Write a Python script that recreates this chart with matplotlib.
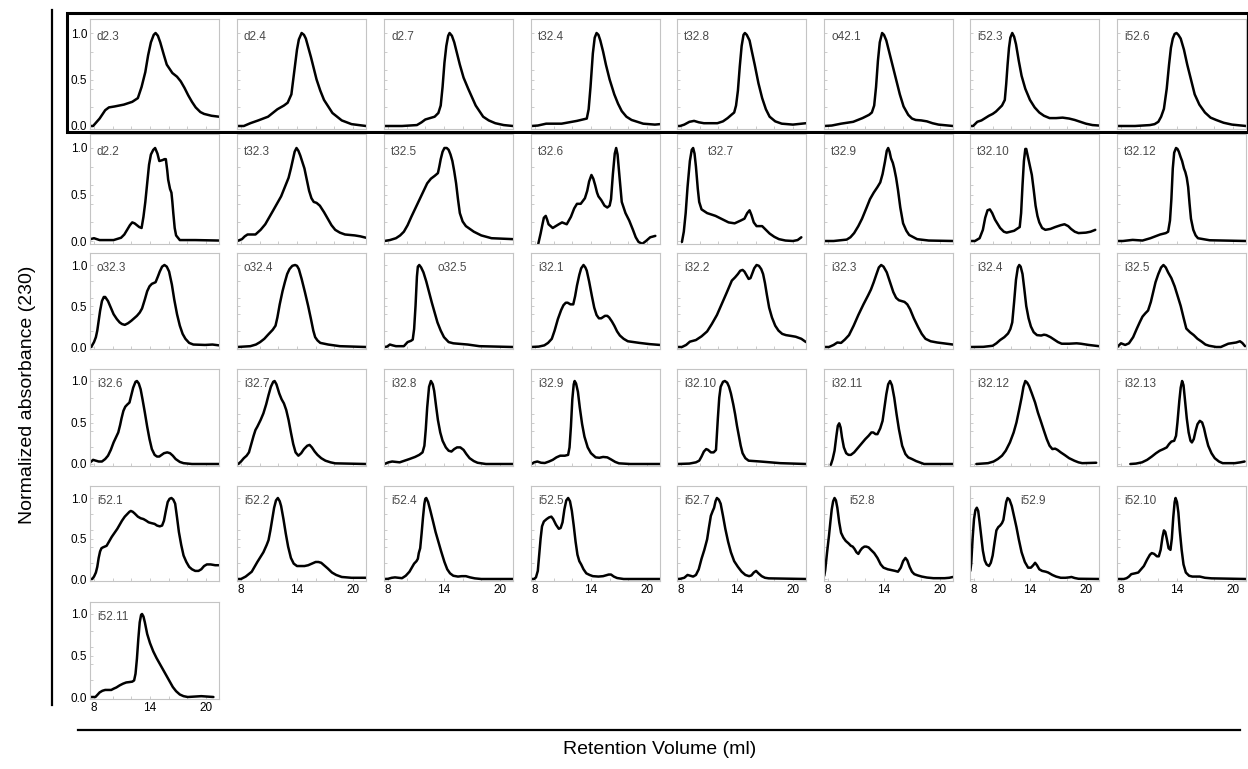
import numpy as np
import matplotlib.pyplot as plt
from matplotlib.patches import Rectangle
from matplotlib.lines import Line2D

# chromatograms, (retention volume ml, normalized absorbance)
d2_3 = [(7.6, 0.0), (7.9, 0.0), (8.6, 0.08), (9.2, 0.17), (9.6, 0.2), (10.2, 0.21), (11.2, 0.23), (12.1, 0.26),
        (12.7, 0.3), (13.1, 0.42), (13.5, 0.58), (13.8, 0.76), (14.1, 0.9), (14.4, 0.98), (14.6, 1.0), (14.85, 0.97),
        (15.1, 0.9), (15.5, 0.76), (15.8, 0.66), (16.4, 0.57), (16.9, 0.53), (17.3, 0.48), (17.7, 0.41), (18.1, 0.33),
        (18.5, 0.26), (18.9, 0.2), (19.4, 0.15), (19.8, 0.13), (20.6, 0.11), (21.4, 0.1)]
d2_4 = [(7.6, 0.0), (8.3, 0.0), (9.0, 0.03), (9.85, 0.06), (10.9, 0.1), (11.9, 0.18), (12.6, 0.22), (13.0, 0.25),
        (13.4, 0.34), (13.6, 0.5), (13.8, 0.66), (14.0, 0.82), (14.2, 0.93), (14.5, 1.0), (14.75, 0.98), (14.95, 0.94),
        (15.5, 0.74), (16.1, 0.5), (16.5, 0.38), (16.9, 0.28), (17.8, 0.14), (18.8, 0.06), (19.85, 0.02), (21.4, 0.0)]
d2_7 = [(7.6, 0.0), (9.5, 0.0), (11.1, 0.01), (11.6, 0.04), (12.0, 0.07), (13.0, 0.1), (13.4, 0.14), (13.65, 0.22),
        (13.85, 0.42), (14.05, 0.68), (14.25, 0.86), (14.45, 0.97), (14.6, 1.0), (14.85, 0.97), (15.1, 0.9),
        (15.4, 0.78), (15.7, 0.66), (16.1, 0.52), (16.6, 0.4), (17.4, 0.22), (18.2, 0.1), (18.8, 0.06), (19.5, 0.03),
        (20.4, 0.01), (21.4, 0.0)]
t32_4 = [(7.6, 0.0), (8.3, 0.005), (9.2, 0.025), (10.85, 0.025), (12.5, 0.055), (13.55, 0.08), (13.75, 0.18),
         (13.95, 0.42), (14.2, 0.78), (14.4, 0.95), (14.6, 1.0), (14.8, 0.98), (15.0, 0.92), (15.3, 0.8),
         (15.6, 0.66), (16.0, 0.5), (16.5, 0.34), (16.9, 0.24), (17.3, 0.16), (17.8, 0.1), (18.35, 0.065),
         (19.6, 0.025), (20.85, 0.015), (21.4, 0.02)]
t32_8 = [(7.6, 0.0), (7.9, 0.0), (8.35, 0.015), (8.9, 0.045), (9.4, 0.055), (9.9, 0.04), (10.45, 0.03), (11.9, 0.03),
         (12.5, 0.05), (13.0, 0.085), (13.4, 0.12), (13.7, 0.145), (13.9, 0.22), (14.1, 0.38), (14.3, 0.64),
         (14.5, 0.86), (14.7, 0.98), (14.85, 1.0), (15.05, 0.98), (15.35, 0.92), (15.6, 0.8), (15.9, 0.66),
         (16.3, 0.46), (16.7, 0.3), (17.1, 0.18), (17.5, 0.1), (18.1, 0.05), (18.8, 0.025), (20.0, 0.015),
         (21.4, 0.03)]
o42_1 = [(7.6, 0.0), (8.4, 0.005), (9.4, 0.025), (10.7, 0.045), (11.7, 0.085), (12.4, 0.12), (12.7, 0.145),
         (12.95, 0.22), (13.15, 0.42), (13.35, 0.7), (13.55, 0.9), (13.8, 1.0), (14.0, 0.98), (14.25, 0.92),
         (14.55, 0.8), (14.9, 0.66), (15.3, 0.5), (15.7, 0.34), (16.1, 0.21), (16.6, 0.12), (17.0, 0.08),
         (17.4, 0.065), (18.0, 0.06), (18.6, 0.05), (19.2, 0.03), (19.85, 0.015), (21.4, 0.0)]
i52_3 = [(7.6, 0.0), (7.9, 0.0), (8.35, 0.045), (8.8, 0.06), (9.2, 0.085), (9.6, 0.11), (10.0, 0.13), (10.35, 0.155),
         (10.65, 0.185), (11.0, 0.22), (11.3, 0.28), (11.45, 0.45), (11.6, 0.66), (11.75, 0.84), (11.9, 0.95),
         (12.1, 1.0), (12.3, 0.96), (12.5, 0.88), (12.8, 0.7), (13.1, 0.54), (13.5, 0.4), (14.0, 0.28),
         (14.5, 0.2), (15.0, 0.145), (15.5, 0.11), (16.1, 0.085), (16.8, 0.085), (17.5, 0.09), (18.2, 0.08),
         (18.8, 0.065), (19.4, 0.045), (20.0, 0.025), (20.7, 0.01), (21.4, 0.005)]
i52_6 = [(7.6, 0.0), (9.5, 0.0), (11.1, 0.01), (11.6, 0.02), (12.0, 0.045), (12.3, 0.1), (12.6, 0.185),
         (12.9, 0.4), (13.15, 0.66), (13.35, 0.84), (13.55, 0.94), (13.75, 0.99), (13.95, 1.0), (14.15, 0.98),
         (14.4, 0.94), (14.75, 0.82), (15.1, 0.66), (15.5, 0.5), (15.9, 0.34), (16.4, 0.23), (17.0, 0.145),
         (17.6, 0.09), (18.2, 0.065), (19.0, 0.035), (19.9, 0.015), (21.4, 0.0)]

d2_2 = [(7.6, 0.02), (8.0, 0.03), (8.6, 0.01), (10.1, 0.01), (10.9, 0.035), (11.25, 0.07), (11.55, 0.12),
        (11.85, 0.17), (12.1, 0.2), (12.35, 0.19), (12.6, 0.17), (12.85, 0.15), (13.1, 0.14), (13.3, 0.26),
        (13.5, 0.42), (13.7, 0.62), (13.9, 0.82), (14.1, 0.93), (14.35, 0.98), (14.55, 1.0), (14.8, 0.94),
        (15.0, 0.86), (15.35, 0.87), (15.55, 0.88), (15.7, 0.88), (15.85, 0.76), (15.95, 0.66), (16.15, 0.56),
        (16.3, 0.52), (16.4, 0.42), (16.5, 0.3), (16.65, 0.14), (16.8, 0.06), (17.2, 0.01), (18.85, 0.01),
        (21.4, 0.005)]
t32_3 = [(7.6, 0.0), (8.1, 0.02), (8.4, 0.05), (8.7, 0.07), (9.55, 0.07), (10.1, 0.12), (10.6, 0.18), (11.4, 0.32),
         (12.3, 0.48), (13.1, 0.68), (13.35, 0.78), (13.55, 0.87), (13.75, 0.96), (13.95, 1.0), (14.15, 0.97),
         (14.35, 0.92), (14.8, 0.78), (15.05, 0.66), (15.3, 0.54), (15.55, 0.46), (15.8, 0.42), (16.1, 0.41),
         (16.45, 0.38), (16.9, 0.31), (17.3, 0.24), (17.7, 0.17), (18.1, 0.12), (18.6, 0.09), (19.15, 0.07),
         (20.2, 0.06), (20.8, 0.05), (21.4, 0.035)]
t32_5 = [(7.6, 0.0), (8.2, 0.01), (8.85, 0.03), (9.3, 0.06), (9.7, 0.1), (10.1, 0.17), (10.5, 0.26), (11.35, 0.44),
         (12.2, 0.62), (12.6, 0.67), (13.0, 0.7), (13.35, 0.73), (13.5, 0.8), (13.65, 0.88), (13.85, 0.96),
         (14.05, 1.0), (14.3, 1.0), (14.5, 0.98), (14.7, 0.93), (14.9, 0.86), (15.1, 0.75), (15.3, 0.62),
         (15.5, 0.45), (15.7, 0.3), (16.0, 0.21), (16.35, 0.16), (17.2, 0.1), (18.0, 0.06), (19.1, 0.03),
         (21.4, 0.02)]
t32_6 = [(8.35, -0.03), (8.6, 0.08), (8.8, 0.18), (8.95, 0.25), (9.15, 0.27), (9.3, 0.23), (9.45, 0.18),
         (9.9, 0.14), (10.55, 0.18), (10.9, 0.2), (11.4, 0.18), (11.85, 0.26), (12.2, 0.35), (12.5, 0.4),
         (12.9, 0.4), (13.35, 0.46), (13.6, 0.54), (13.8, 0.64), (14.05, 0.71), (14.25, 0.67), (14.45, 0.6),
         (14.65, 0.52), (14.8, 0.48), (15.1, 0.44), (15.45, 0.38), (15.75, 0.36), (16.0, 0.38), (16.15, 0.45),
         (16.35, 0.72), (16.55, 0.94), (16.7, 1.0), (16.85, 0.93), (17.05, 0.7), (17.3, 0.42), (17.7, 0.3),
         (18.1, 0.22), (18.5, 0.12), (18.8, 0.04), (19.1, -0.01), (19.5, -0.03), (19.9, 0.0), (20.35, 0.04),
         (20.9, 0.055)]
t32_7 = [(8.1, -0.01), (8.3, 0.1), (8.5, 0.3), (8.7, 0.58), (8.95, 0.86), (9.15, 0.98), (9.3, 1.0), (9.45, 0.94),
         (9.6, 0.8), (9.8, 0.56), (9.95, 0.42), (10.2, 0.34), (10.8, 0.3), (11.7, 0.27), (12.5, 0.23),
         (13.1, 0.2), (13.75, 0.19), (14.4, 0.22), (14.8, 0.24), (15.1, 0.3), (15.35, 0.33), (15.55, 0.28),
         (15.8, 0.2), (16.1, 0.16), (16.7, 0.16), (17.1, 0.12), (17.5, 0.08), (18.0, 0.045), (18.5, 0.02),
         (19.2, 0.005), (20.0, 0.0), (20.5, 0.01), (20.9, 0.04)]
t32_9 = [(7.6, 0.0), (8.6, 0.0), (10.0, 0.015), (10.4, 0.04), (10.8, 0.085), (11.25, 0.16), (11.65, 0.24),
         (12.1, 0.35), (12.5, 0.45), (12.9, 0.52), (13.3, 0.58), (13.6, 0.63), (13.85, 0.72), (14.1, 0.85),
         (14.3, 0.97), (14.45, 1.0), (14.6, 0.96), (14.75, 0.89), (14.95, 0.84), (15.1, 0.78), (15.3, 0.68),
         (15.5, 0.55), (15.75, 0.36), (16.05, 0.19), (16.4, 0.11), (16.7, 0.065), (17.55, 0.02), (18.8, 0.005),
         (21.4, 0.0)]
t32_10 = [(7.6, 0.0), (8.1, 0.0), (8.6, 0.03), (8.95, 0.12), (9.2, 0.25), (9.45, 0.33), (9.7, 0.34), (9.95, 0.3),
          (10.25, 0.23), (10.8, 0.14), (11.2, 0.1), (11.5, 0.09), (12.3, 0.11), (12.9, 0.15), (13.05, 0.3),
          (13.2, 0.6), (13.35, 0.86), (13.5, 0.99), (13.6, 0.99), (13.75, 0.92), (13.9, 0.85), (14.2, 0.71),
          (14.4, 0.55), (14.6, 0.38), (14.8, 0.27), (15.0, 0.2), (15.3, 0.14), (15.65, 0.12), (16.2, 0.13),
          (16.7, 0.15), (17.3, 0.17), (17.7, 0.18), (18.1, 0.16), (18.4, 0.13), (18.8, 0.1), (19.2, 0.085),
          (20.0, 0.09), (20.5, 0.1), (21.0, 0.12)]
t32_12 = [(7.6, 0.0), (8.2, 0.0), (9.25, 0.012), (10.3, 0.005), (11.15, 0.03), (12.2, 0.07), (12.8, 0.085),
          (13.05, 0.1), (13.25, 0.22), (13.4, 0.45), (13.55, 0.78), (13.7, 0.95), (13.9, 1.0), (14.05, 0.99),
          (14.2, 0.96), (14.4, 0.9), (14.55, 0.86), (14.75, 0.78), (14.9, 0.74), (15.05, 0.68), (15.2, 0.58),
          (15.35, 0.4), (15.5, 0.24), (15.75, 0.12), (16.0, 0.06), (16.25, 0.03), (17.5, 0.008), (21.4, 0.0)]

o32_3 = [(7.7, 0.0), (8.0, 0.06), (8.2, 0.12), (8.35, 0.2), (8.5, 0.32), (8.65, 0.44), (8.85, 0.56), (9.05, 0.61),
         (9.2, 0.61), (9.5, 0.56), (9.8, 0.48), (10.1, 0.4), (10.45, 0.34), (10.75, 0.3), (11.0, 0.28),
         (11.3, 0.27), (11.65, 0.29), (12.0, 0.32), (12.3, 0.35), (12.6, 0.38), (12.9, 0.42), (13.15, 0.47),
         (13.45, 0.58), (13.7, 0.68), (13.95, 0.74), (14.2, 0.77), (14.6, 0.79), (14.85, 0.86), (15.05, 0.92),
         (15.3, 0.98), (15.55, 1.0), (15.8, 0.98), (16.05, 0.92), (16.35, 0.76), (16.6, 0.58), (16.9, 0.4),
         (17.2, 0.26), (17.5, 0.16), (17.8, 0.1), (18.2, 0.05), (18.65, 0.03), (19.9, 0.025), (20.7, 0.03),
         (21.4, 0.02)]
o32_4 = [(7.6, 0.0), (9.0, 0.01), (9.6, 0.03), (10.05, 0.06), (10.5, 0.1), (10.9, 0.15), (11.4, 0.21),
         (11.7, 0.26), (11.9, 0.36), (12.15, 0.52), (12.45, 0.68), (12.7, 0.79), (12.95, 0.89), (13.2, 0.95),
         (13.5, 0.99), (13.8, 1.0), (14.0, 0.99), (14.2, 0.95), (14.5, 0.83), (14.85, 0.67), (15.2, 0.5),
         (15.5, 0.34), (15.75, 0.2), (15.95, 0.12), (16.2, 0.08), (16.5, 0.05), (17.35, 0.03), (18.6, 0.01),
         (21.4, 0.0)]
o32_5 = [(7.6, 0.0), (7.9, 0.005), (8.2, 0.03), (8.5, 0.02), (8.85, 0.01), (9.7, 0.01), (10.1, 0.06), (10.45, 0.075),
         (10.65, 0.09), (10.8, 0.22), (10.95, 0.5), (11.1, 0.86), (11.2, 0.98), (11.35, 1.0), (11.55, 0.97),
         (11.8, 0.91), (12.1, 0.8), (12.4, 0.67), (12.7, 0.54), (13.0, 0.42), (13.3, 0.3), (13.65, 0.2),
         (14.0, 0.12), (14.5, 0.06), (15.0, 0.045), (15.5, 0.04), (16.55, 0.03), (17.8, 0.01), (21.4, 0.0)]
i32_1 = [(7.6, 0.0), (8.4, 0.005), (9.0, 0.02), (9.4, 0.05), (9.8, 0.1), (10.1, 0.2), (10.45, 0.34), (10.8, 0.45),
         (11.05, 0.51), (11.3, 0.54), (11.5, 0.54), (11.8, 0.52), (12.1, 0.52), (12.3, 0.62), (12.5, 0.75),
         (12.75, 0.88), (12.95, 0.96), (13.2, 1.0), (13.4, 0.97), (13.55, 0.93), (13.8, 0.8), (14.1, 0.62),
         (14.35, 0.48), (14.6, 0.39), (14.85, 0.35), (15.1, 0.35), (15.5, 0.38), (15.75, 0.38), (15.95, 0.36),
         (16.25, 0.31), (16.5, 0.26), (16.8, 0.19), (17.1, 0.14), (17.5, 0.1), (17.95, 0.07), (19.2, 0.05),
         (20.3, 0.035), (21.4, 0.025)]
i32_2 = [(7.6, 0.0), (8.1, 0.0), (8.55, 0.025), (8.95, 0.065), (9.6, 0.085), (10.2, 0.13), (10.8, 0.19),
         (11.3, 0.28), (11.85, 0.39), (12.35, 0.52), (12.85, 0.65), (13.15, 0.73), (13.45, 0.81), (13.8, 0.85),
         (14.1, 0.89), (14.35, 0.93), (14.6, 0.94), (14.8, 0.92), (15.0, 0.88), (15.25, 0.83), (15.45, 0.84),
         (15.65, 0.9), (15.85, 0.96), (16.1, 1.0), (16.35, 0.99), (16.6, 0.95), (16.8, 0.89), (17.0, 0.78),
         (17.2, 0.64), (17.45, 0.48), (17.75, 0.36), (18.1, 0.26), (18.45, 0.2), (18.85, 0.16), (19.25, 0.145),
         (19.8, 0.135), (20.3, 0.125), (20.9, 0.1), (21.4, 0.06)]
i32_3 = [(7.6, 0.0), (8.1, 0.0), (8.6, 0.025), (9.0, 0.055), (9.4, 0.05), (9.8, 0.09), (10.25, 0.145),
         (10.75, 0.26), (11.25, 0.39), (11.8, 0.52), (12.3, 0.63), (12.6, 0.7), (12.9, 0.79), (13.2, 0.89),
         (13.45, 0.97), (13.7, 1.0), (13.95, 0.98), (14.3, 0.91), (14.65, 0.79), (15.0, 0.67), (15.3, 0.6),
         (15.6, 0.57), (15.9, 0.56), (16.2, 0.55), (16.5, 0.52), (16.8, 0.46), (17.2, 0.35), (17.65, 0.245),
         (18.05, 0.16), (18.45, 0.1), (19.0, 0.07), (19.7, 0.055), (21.4, 0.03)]
i32_4 = [(7.6, 0.0), (9.0, 0.002), (10.0, 0.015), (10.4, 0.045), (10.8, 0.085), (11.25, 0.12), (11.65, 0.165),
         (11.9, 0.22), (12.1, 0.3), (12.3, 0.55), (12.5, 0.82), (12.7, 0.97), (12.85, 1.0), (13.0, 0.98),
         (13.2, 0.89), (13.4, 0.7), (13.6, 0.5), (13.85, 0.35), (14.1, 0.25), (14.4, 0.18), (14.75, 0.145),
         (15.2, 0.14), (15.5, 0.15), (15.75, 0.145), (16.2, 0.12), (16.6, 0.09), (17.0, 0.06), (17.4, 0.04),
         (18.2, 0.04), (19.0, 0.045), (19.45, 0.04), (20.3, 0.025), (21.4, 0.01)]
i32_5 = [(7.6, 0.0), (8.0, 0.045), (8.45, 0.025), (8.85, 0.045), (9.3, 0.12), (9.7, 0.225), (10.0, 0.3),
         (10.3, 0.37), (10.6, 0.41), (10.9, 0.445), (11.2, 0.55), (11.45, 0.67), (11.7, 0.79), (12.0, 0.89),
         (12.3, 0.97), (12.55, 1.0), (12.8, 0.97), (13.05, 0.91), (13.4, 0.84), (13.75, 0.74), (14.05, 0.63),
         (14.4, 0.5), (14.7, 0.36), (15.0, 0.225), (15.4, 0.18), (15.8, 0.145), (16.2, 0.1), (16.65, 0.065),
         (17.05, 0.03), (17.45, 0.015), (18.2, 0.0), (18.7, 0.0), (19.1, 0.02), (19.5, 0.04), (20.35, 0.055),
         (20.75, 0.07), (21.0, 0.05), (21.3, 0.01)]

i32_6 = [(7.6, 0.02), (7.9, 0.05), (8.2, 0.04), (8.5, 0.03), (8.85, 0.03), (9.2, 0.06), (9.5, 0.1), (9.8, 0.17),
         (10.1, 0.26), (10.6, 0.38), (10.8, 0.47), (10.95, 0.55), (11.15, 0.64), (11.35, 0.69), (11.6, 0.72),
         (11.8, 0.74), (12.0, 0.83), (12.2, 0.92), (12.45, 0.99), (12.6, 1.0), (12.8, 0.97), (13.0, 0.9),
         (13.2, 0.78), (13.45, 0.62), (13.7, 0.45), (13.95, 0.3), (14.2, 0.18), (14.5, 0.11), (14.75, 0.09),
         (15.0, 0.09), (15.25, 0.11), (15.5, 0.13), (15.85, 0.14), (16.15, 0.13), (16.45, 0.1), (16.75, 0.06),
         (17.2, 0.025), (17.6, 0.01), (18.5, 0.0), (21.4, 0.0)]
i32_7 = [(7.7, 0.0), (8.0, 0.03), (8.3, 0.07), (8.6, 0.1), (8.85, 0.14), (9.1, 0.24), (9.35, 0.34), (9.55, 0.41),
         (9.75, 0.45), (10.1, 0.53), (10.4, 0.61), (10.7, 0.72), (10.95, 0.83), (11.2, 0.93), (11.45, 0.99),
         (11.6, 1.0), (11.8, 0.96), (12.1, 0.85), (12.35, 0.78), (12.6, 0.73), (12.85, 0.65), (13.1, 0.53),
         (13.35, 0.38), (13.6, 0.24), (13.85, 0.14), (14.15, 0.1), (14.45, 0.13), (14.75, 0.18), (15.1, 0.22),
         (15.35, 0.23), (15.6, 0.2), (15.9, 0.15), (16.2, 0.11), (16.6, 0.07), (17.05, 0.04), (17.6, 0.02),
         (18.1, 0.008), (21.4, 0.0)]
i32_8 = [(7.6, 0.0), (8.05, 0.02), (8.45, 0.03), (9.25, 0.02), (10.3, 0.06), (10.9, 0.085), (11.35, 0.11),
         (11.7, 0.14), (11.9, 0.22), (12.05, 0.42), (12.2, 0.68), (12.4, 0.93), (12.6, 1.0), (12.8, 0.96),
         (12.95, 0.88), (13.15, 0.7), (13.35, 0.53), (13.6, 0.38), (13.85, 0.28), (14.2, 0.2), (14.5, 0.16),
         (14.8, 0.15), (15.1, 0.18), (15.4, 0.2), (15.75, 0.2), (16.1, 0.17), (16.4, 0.12), (16.75, 0.07),
         (17.2, 0.035), (17.6, 0.015), (18.5, 0.0), (21.4, 0.0)]
i32_9 = [(7.6, 0.0), (7.9, 0.02), (8.25, 0.03), (8.65, 0.015), (9.05, 0.012), (9.5, 0.03), (9.9, 0.05),
         (10.3, 0.08), (10.7, 0.1), (11.2, 0.1), (11.55, 0.11), (11.7, 0.2), (11.85, 0.45), (12.0, 0.78),
         (12.15, 0.96), (12.25, 1.0), (12.4, 0.97), (12.6, 0.87), (12.8, 0.68), (13.05, 0.48), (13.3, 0.33),
         (13.65, 0.2), (14.0, 0.13), (14.5, 0.08), (14.9, 0.075), (15.3, 0.085), (15.75, 0.08), (16.15, 0.055),
         (16.6, 0.025), (17.0, 0.008), (18.2, 0.0), (21.4, 0.0)]
i32_10 = [(7.6, 0.0), (8.9, 0.005), (9.6, 0.02), (9.95, 0.04), (10.2, 0.09), (10.45, 0.15), (10.7, 0.18),
          (10.9, 0.17), (11.2, 0.14), (11.5, 0.14), (11.75, 0.17), (11.85, 0.36), (11.95, 0.55), (12.1, 0.8),
          (12.25, 0.93), (12.5, 0.99), (12.7, 1.0), (12.95, 0.98), (13.15, 0.93), (13.35, 0.85), (13.6, 0.72),
          (13.8, 0.6), (14.0, 0.46), (14.2, 0.34), (14.4, 0.22), (14.6, 0.13), (14.9, 0.07), (15.25, 0.04),
          (16.5, 0.03), (18.65, 0.01), (21.4, 0.0)]
i32_11 = [(8.3, -0.01), (8.5, 0.06), (8.7, 0.16), (8.9, 0.34), (9.05, 0.46), (9.2, 0.49), (9.35, 0.44),
          (9.5, 0.32), (9.7, 0.2), (9.95, 0.13), (10.2, 0.11), (10.45, 0.11), (10.8, 0.14), (11.1, 0.18),
          (11.4, 0.22), (11.7, 0.26), (12.0, 0.3), (12.35, 0.34), (12.65, 0.38), (12.85, 0.38), (13.1, 0.36),
          (13.3, 0.36), (13.6, 0.43), (13.85, 0.52), (14.05, 0.68), (14.25, 0.84), (14.45, 0.96), (14.65, 1.0),
          (14.85, 0.95), (15.1, 0.8), (15.35, 0.6), (15.6, 0.42), (15.95, 0.22), (16.3, 0.12), (16.6, 0.08),
          (17.0, 0.06), (17.45, 0.035), (18.3, 0.0), (20.0, 0.0), (21.4, 0.0)]
i32_12 = [(8.25, 0.0), (9.5, 0.01), (10.1, 0.03), (10.55, 0.06), (11.0, 0.1), (11.4, 0.16), (11.85, 0.26),
          (12.25, 0.38), (12.55, 0.5), (12.85, 0.66), (13.1, 0.8), (13.3, 0.93), (13.5, 1.0), (13.7, 0.98),
          (13.9, 0.94), (14.2, 0.85), (14.55, 0.74), (14.85, 0.62), (15.15, 0.52), (15.5, 0.4), (15.8, 0.3),
          (16.1, 0.22), (16.4, 0.18), (16.7, 0.185), (16.95, 0.17), (17.3, 0.14), (17.7, 0.11), (18.2, 0.07),
          (18.75, 0.04), (19.2, 0.02), (19.6, 0.01), (21.1, 0.015)]
i32_13 = [(9.0, 0.0), (9.6, 0.005), (10.25, 0.02), (10.8, 0.05), (11.3, 0.09), (11.75, 0.13), (12.15, 0.16),
          (12.55, 0.18), (12.9, 0.2), (13.15, 0.24), (13.4, 0.27), (13.7, 0.28), (13.9, 0.34), (14.05, 0.5),
          (14.25, 0.76), (14.4, 0.92), (14.55, 1.0), (14.7, 0.95), (14.85, 0.78), (15.05, 0.55), (15.25, 0.38),
          (15.45, 0.28), (15.6, 0.26), (15.8, 0.3), (16.0, 0.4), (16.2, 0.48), (16.45, 0.52), (16.7, 0.5),
          (16.9, 0.43), (17.1, 0.33), (17.35, 0.22), (17.7, 0.13), (18.05, 0.07), (18.5, 0.03), (18.9, 0.01),
          (20.2, 0.01), (20.8, 0.02), (21.25, 0.03)]

i52_1 = [(7.6, 0.0), (7.8, 0.0), (8.0, 0.03), (8.2, 0.08), (8.35, 0.15), (8.5, 0.26), (8.65, 0.34),
         (8.8, 0.38), (8.95, 0.39), (9.35, 0.41), (9.6, 0.46), (9.9, 0.52), (10.2, 0.57), (10.5, 0.62),
         (10.75, 0.67), (11.0, 0.72), (11.3, 0.77), (11.55, 0.8), (11.8, 0.83), (11.95, 0.84), (12.15, 0.83),
         (12.35, 0.81), (12.7, 0.77), (13.0, 0.75), (13.3, 0.74), (13.6, 0.72), (13.85, 0.7), (14.15, 0.69),
         (14.5, 0.68), (14.75, 0.66), (15.05, 0.65), (15.3, 0.66), (15.5, 0.72), (15.7, 0.84), (15.9, 0.95),
         (16.1, 0.99), (16.3, 1.0), (16.5, 0.98), (16.7, 0.93), (16.9, 0.76), (17.1, 0.58), (17.35, 0.42),
         (17.6, 0.29), (17.9, 0.21), (18.2, 0.15), (18.5, 0.12), (18.85, 0.1), (19.2, 0.1), (19.5, 0.12),
         (19.8, 0.16), (20.1, 0.18), (20.5, 0.18), (21.0, 0.17), (21.4, 0.17)]
i52_2 = [(7.6, 0.0), (8.0, 0.0), (8.5, 0.03), (9.15, 0.09), (9.75, 0.21), (10.4, 0.33), (10.75, 0.42),
         (10.95, 0.48), (11.15, 0.6), (11.35, 0.74), (11.55, 0.88), (11.75, 0.97), (11.95, 1.0), (12.15, 0.96),
         (12.3, 0.9), (12.55, 0.74), (12.8, 0.56), (13.05, 0.4), (13.35, 0.26), (13.65, 0.19), (14.0, 0.16),
         (14.4, 0.16), (14.8, 0.16), (15.2, 0.17), (15.6, 0.19), (16.0, 0.21), (16.3, 0.21), (16.6, 0.2),
         (16.9, 0.17), (17.3, 0.13), (17.75, 0.08), (18.2, 0.05), (18.8, 0.025), (19.85, 0.015), (21.4, 0.015)]
i52_4 = [(7.6, 0.0), (8.0, 0.002), (8.4, 0.015), (8.75, 0.02), (9.5, 0.01), (9.9, 0.04), (10.3, 0.09),
         (10.55, 0.14), (10.8, 0.19), (11.05, 0.22), (11.2, 0.25), (11.3, 0.32), (11.45, 0.38), (11.6, 0.56),
         (11.75, 0.76), (11.9, 0.93), (12.0, 0.99), (12.1, 1.0), (12.3, 0.95), (12.55, 0.84), (12.85, 0.7),
         (13.1, 0.58), (13.4, 0.46), (13.7, 0.34), (14.05, 0.21), (14.35, 0.12), (14.65, 0.07), (15.0, 0.04),
         (15.5, 0.03), (15.9, 0.035), (16.35, 0.035), (16.8, 0.02), (17.3, 0.008), (18.0, 0.0), (21.4, 0.0)]
i52_5 = [(7.6, 0.0), (7.9, 0.0), (8.1, 0.02), (8.3, 0.1), (8.45, 0.3), (8.6, 0.5), (8.75, 0.65), (8.95, 0.71),
         (9.25, 0.74), (9.5, 0.76), (9.75, 0.77), (9.95, 0.74), (10.25, 0.67), (10.55, 0.62), (10.75, 0.63),
         (10.95, 0.7), (11.15, 0.86), (11.35, 0.97), (11.55, 1.0), (11.75, 0.96), (11.95, 0.84), (12.15, 0.66),
         (12.35, 0.46), (12.55, 0.3), (12.75, 0.22), (12.95, 0.18), (13.2, 0.12), (13.5, 0.07), (13.85, 0.05),
         (14.2, 0.035), (14.8, 0.03), (15.3, 0.035), (15.6, 0.045), (15.9, 0.055), (16.15, 0.055),
         (16.45, 0.03), (16.8, 0.012), (17.5, 0.0), (21.4, 0.0)]
i52_7 = [(7.6, 0.0), (7.9, 0.002), (8.35, 0.015), (8.7, 0.05), (9.0, 0.04), (9.3, 0.03), (9.6, 0.05),
         (9.9, 0.12), (10.2, 0.25), (10.5, 0.36), (10.8, 0.49), (11.0, 0.64), (11.2, 0.78), (11.4, 0.84),
         (11.55, 0.88), (11.7, 0.96), (11.85, 1.0), (12.05, 0.98), (12.25, 0.93), (12.5, 0.78), (12.75, 0.62),
         (13.05, 0.46), (13.35, 0.33), (13.7, 0.22), (14.1, 0.15), (14.5, 0.09), (14.9, 0.05), (15.3, 0.035),
         (15.55, 0.045), (15.8, 0.08), (16.05, 0.1), (16.3, 0.07), (16.65, 0.035), (17.0, 0.015), (17.4, 0.008),
         (21.4, 0.0)]
i52_8 = [(7.6, 0.04), (7.7, 0.11), (7.9, 0.33), (8.1, 0.53), (8.25, 0.7), (8.4, 0.86), (8.55, 0.96), (8.7, 1.0),
         (8.85, 0.97), (9.0, 0.88), (9.2, 0.7), (9.4, 0.57), (9.65, 0.51), (9.9, 0.47), (10.2, 0.44),
         (10.45, 0.41), (10.65, 0.4), (10.85, 0.37), (11.05, 0.33), (11.25, 0.31), (11.45, 0.35), (11.65, 0.38),
         (11.9, 0.4), (12.1, 0.4), (12.35, 0.39), (12.6, 0.36), (12.95, 0.32), (13.3, 0.26), (13.65, 0.18),
         (13.95, 0.14), (14.4, 0.12), (14.8, 0.11), (15.2, 0.1), (15.5, 0.09), (15.8, 0.14), (16.05, 0.22),
         (16.3, 0.26), (16.5, 0.23), (16.75, 0.15), (17.0, 0.09), (17.25, 0.06), (17.6, 0.045), (18.05, 0.03),
         (18.6, 0.018), (19.3, 0.01), (20.5, 0.01), (21.0, 0.015), (21.4, 0.025)]
i52_9 = [(7.6, 0.1), (7.7, 0.19), (7.85, 0.5), (8.0, 0.74), (8.15, 0.85), (8.3, 0.88), (8.45, 0.84), (8.6, 0.7),
         (8.75, 0.55), (8.95, 0.35), (9.15, 0.23), (9.35, 0.18), (9.6, 0.16), (9.8, 0.2), (10.0, 0.29),
         (10.2, 0.45), (10.4, 0.6), (10.6, 0.64), (10.8, 0.66), (11.0, 0.69), (11.15, 0.73), (11.3, 0.84),
         (11.45, 0.95), (11.6, 1.0), (11.8, 0.98), (12.05, 0.9), (12.3, 0.77), (12.55, 0.64), (12.8, 0.49),
         (13.1, 0.33), (13.45, 0.21), (13.8, 0.14), (14.1, 0.14), (14.35, 0.17), (14.55, 0.2), (14.75, 0.17),
         (15.0, 0.12), (15.3, 0.1), (15.7, 0.09), (15.95, 0.08), (16.4, 0.05), (16.8, 0.03), (17.3, 0.015),
         (17.8, 0.015), (18.2, 0.02), (18.45, 0.025), (18.8, 0.012), (19.2, 0.003), (21.4, 0.0)]
i52_10 = [(7.6, 0.0), (8.3, 0.0), (8.6, 0.01), (8.85, 0.03), (9.1, 0.06), (9.5, 0.07), (9.85, 0.08),
          (10.15, 0.12), (10.45, 0.16), (10.8, 0.24), (11.1, 0.3), (11.3, 0.32), (11.55, 0.31), (11.85, 0.28),
          (12.05, 0.28), (12.25, 0.36), (12.45, 0.52), (12.6, 0.6), (12.75, 0.58), (12.9, 0.5), (13.1, 0.38),
          (13.3, 0.36), (13.45, 0.5), (13.6, 0.76), (13.75, 0.95), (13.85, 1.0), (14.0, 0.95), (14.15, 0.82),
          (14.3, 0.6), (14.5, 0.36), (14.7, 0.18), (14.95, 0.08), (15.3, 0.04), (15.65, 0.03), (16.45, 0.03),
          (17.0, 0.015), (17.7, 0.008), (21.4, 0.0)]

i52_11 = [(7.6, 0.0), (8.15, 0.0), (8.4, 0.03), (8.6, 0.055), (8.9, 0.075), (9.2, 0.085), (9.85, 0.085),
          (10.1, 0.1), (10.4, 0.115), (10.75, 0.14), (11.1, 0.16), (11.45, 0.175), (11.8, 0.18), (12.1, 0.185),
          (12.3, 0.2), (12.45, 0.28), (12.6, 0.46), (12.75, 0.7), (12.9, 0.9), (13.05, 0.99), (13.15, 1.0),
          (13.3, 0.97), (13.45, 0.9), (13.7, 0.76), (14.0, 0.65), (14.35, 0.55), (14.7, 0.47), (15.05, 0.4),
          (15.4, 0.33), (15.75, 0.26), (16.1, 0.19), (16.45, 0.12), (16.8, 0.07), (17.2, 0.03), (17.6, 0.01),
          (18.05, 0.0), (19.5, 0.01), (20.8, 0.0)]

# grid order, row by row (label, curve)
row1 = [("d2.3", d2_3), ("d2.4", d2_4), ("d2.7", d2_7), ("t32.4", t32_4),
        ("t32.8", t32_8), ("o42.1", o42_1), ("i52.3", i52_3), ("i52.6", i52_6)]
row2 = [("d2.2", d2_2), ("t32.3", t32_3), ("t32.5", t32_5), ("t32.6", t32_6),
        ("t32.7", t32_7), ("t32.9", t32_9), ("t32.10", t32_10), ("t32.12", t32_12)]
row3 = [("o32.3", o32_3), ("o32.4", o32_4), ("o32.5", o32_5), ("i32.1", i32_1),
        ("i32.2", i32_2), ("i32.3", i32_3), ("i32.4", i32_4), ("i32.5", i32_5)]
row4 = [("i32.6", i32_6), ("i32.7", i32_7), ("i32.8", i32_8), ("i32.9", i32_9),
        ("i32.10", i32_10), ("i32.11", i32_11), ("i32.12", i32_12), ("i32.13", i32_13)]
row5 = [("i52.1", i52_1), ("i52.2", i52_2), ("i52.4", i52_4), ("i52.5", i52_5),
        ("i52.7", i52_7), ("i52.8", i52_8), ("i52.9", i52_9), ("i52.10", i52_10)]
row6 = [("i52.11", i52_11)]
rows = [row1, row2, row3, row4, row5, row6]

x_major = [8, 14, 20]
x_minor = [10, 12, 16, 18]
y_major = [0.0, 0.5, 1.0]
y_minor = [0.2, 0.4, 0.6, 0.8]

# labels that sit further right in their panel (pixels from the left spine)
label_offset = {"t32.7": 31, "o32.5": 54, "i52.8": 25, "i52.9": 50}

W, H = 1248, 769
plt.rcParams["font.family"] = ["Liberation Sans", "DejaVu Sans"]
fig = plt.figure(figsize=(W / 100, H / 100), dpi=100)

col_left = [90, 237, 384, 531, 677, 824, 970, 1117]
col_w = 129
# (pixel of y=0, pixel of y=1) per row
row_y = [(126, 33), (241, 148), (347, 265), (464, 381), (579, 498), (697, 614)]
ylo, yhi = -0.03, 1.15


def px_axes(left, top, w, h):
    return fig.add_axes([left / W, 1 - (top + h) / H, w / W, h / H])


for r, row in enumerate(rows):
    y0, y1 = row_y[r]
    unit = y0 - y1
    top = y1 - (yhi - 1.0) * unit
    h = (yhi - ylo) * unit
    for c, (name, pts) in enumerate(row):
        ax = px_axes(col_left[c], top, col_w, h)
        xs, ys = np.array(pts).T
        ax.plot(xs, ys, color="black", lw=1.8, solid_joinstyle="round", solid_capstyle="round")
        ax.set_xlim(7.57, 21.4)
        ax.set_ylim(ylo, yhi)
        for s in ax.spines.values():
            s.set_color("#c4c4c4")
            s.set_linewidth(0.8)
        ax.set_xticks(x_major)
        ax.set_xticks(x_minor, minor=True)
        ax.set_yticks(y_major)
        ax.set_yticks(y_minor, minor=True)
        ax.tick_params(which="both", direction="in", length=2.5, width=0.6, color="#c4c4c4",
                       labelsize=8.5, pad=2)
        show_x = (r == 4 and c > 0) or r == 5
        if not show_x:
            ax.set_xticklabels([])
        if c != 0:
            ax.set_yticklabels([])
        else:
            ax.set_yticklabels(["0.0", "0.5", "1.0"])
        off = label_offset.get(name, 7)
        ax.text(off / col_w, 0.84, name, transform=ax.transAxes, fontsize=8.5,
                color="#4a4a4a", ha="left", va="center")

# frame round the first row and the two long rules
fig.patches.append(Rectangle((67 / W, 1 - 132 / H), (W - 67) / W, 119 / H, transform=fig.transFigure,
                             fill=False, edgecolor="black", lw=2.2))
fig.lines.append(Line2D([52 / W, 52 / W], [1 - 10 / H, 1 - 705 / H], transform=fig.transFigure,
                        color="black", lw=1.6))
fig.lines.append(Line2D([78 / W, 1240 / W], [1 - 730 / H, 1 - 730 / H], transform=fig.transFigure,
                        color="black", lw=1.6))

fig.text(28 / W, 1 - 395 / H, "Normalized absorbance (230)", rotation=90, fontsize=14,
         ha="center", va="center")
fig.text(660 / W, 1 - 750 / H, "Retention Volume (ml)", fontsize=14, ha="center", va="center")

fig.savefig("out.png", dpi=100)
